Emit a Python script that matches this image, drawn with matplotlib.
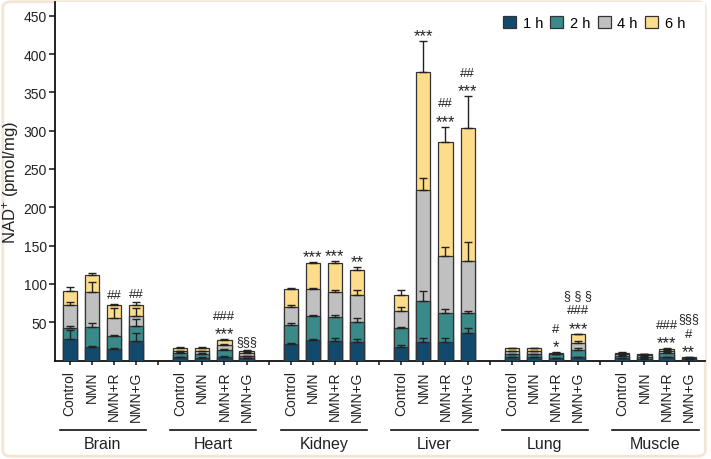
import numpy as np
import matplotlib
matplotlib.use("Agg")
import matplotlib.pyplot as plt
import matplotlib.transforms as mtransforms
from matplotlib.patches import FancyBboxPatch, Patch

plt.rcParams['font.family'] = ['Liberation Sans', 'DejaVu Sans']
plt.rcParams['mathtext.default'] = 'regular'

tissues = ['Brain', 'Heart', 'Kidney', 'Liver', 'Lung', 'Muscle']
treatments = ['Control', 'NMN', 'NMN+R', 'NMN+G']
times = ['1 h', '2 h', '4 h', '6 h']
colors = ['#124a6e', '#3b8a8a', '#c0c0c0', '#fddc8c']

# NAD+ (pmol/mg), one value per tissue x treatment (tissue-major)
nad_1h = [28, 17.5, 15, 26,   4, 3.5, 5, 3,   21.5, 27, 25, 24,
          18, 24, 24, 35.5,   4, 4, 3, 4.5,   3, 2.5, 4, 1.5]
nad_2h = [43, 43.5, 31.5, 44.5,   10, 9, 14, 6,   46.5, 57.5, 56.5, 50,
          42.5, 78, 61.5, 61.5,   8, 8, 8, 14,   6.5, 5, 10, 2.5]
nad_4h = [73, 90, 56, 58.5,   12.5, 12, 20, 10,   69.5, 93.5, 89, 85,
          65, 223, 136, 130.5,   12, 12, 9, 23,   9, 7.5, 13, 3.5]
nad_6h = [90.5, 112, 72, 72,   16, 16, 27, 13,   93.5, 127.5, 127.5, 117.5,
          86, 377, 285, 304,   16, 16, 10, 34,   10, 8.5, 15.5, 4]

err_1h = [12, 1.5, 1.5, 9.5,   0.5, 0.5, 0.5, 0.5,   1, 1.5, 4, 4,
          2.5, 5, 6, 6.5,   0.5, 0.5, 0.5, 0.5,   0.5, 0.5, 0.5, 0.3]
err_2h = [1.5, 5, 2, 10,   0.5, 0.5, 0.5, 0.5,   3, 1.5, 3, 5.5,
          1, 12.5, 5.5, 3.5,   0.5, 0.5, 0.5, 2,   0.5, 0.5, 0.5, 0.3]
err_4h = [4, 13, 12, 9.5,   0.5, 0.5, 1, 0.5,   2.5, 1, 3.5, 7,
          4.5, 15, 12, 24.5,   0.5, 0.5, 0.5, 2.5,   0.5, 0.5, 0.5, 0.3]
err_6h = [5, 2.5, 2, 4,   1, 1, 1, 1,   1.5, 1, 2.5, 4.5,
          6, 40, 20, 41,   0.5, 0.5, 0.5, 1,   0.5, 0.5, 0.8, 0.5]

# significance marks, listed bottom to top
marks = [[], [], ['##'], ['##'],
         [], [], ['***', '###'], ['§§§'],
         [], ['***'], ['***'], ['**'],
         [], ['***'], ['***', '##'], ['***', '##'],
         [], [], ['*', '#'], ['***', '###', '§ § §'],
         [], [], ['***', '###'], ['**', '#', '§§§']]

means = [nad_1h, nad_2h, nad_4h, nad_6h]
errs = [err_1h, err_2h, err_4h, err_6h]

fig = plt.figure(figsize=(7.11, 4.6), dpi=100)
ax = fig.add_axes([55 / 711, 1 - 361.5 / 460, 650 / 711, 358.5 / 460])

pos = np.array([g * 5 + i for g in range(len(tissues)) for i in range(len(treatments))])
width = 0.64

# later time points drawn behind earlier ones
for k in range(3, -1, -1):
    ax.bar(pos, means[k], width=width, color=colors[k], edgecolor='#333333',
           linewidth=0.9, zorder=2 + (3 - k))
for k in range(4):
    ax.errorbar(pos, means[k], yerr=[np.zeros(len(pos)), errs[k]], fmt='none',
                ecolor='#222222', elinewidth=1.0, capsize=2.7, capthick=1.0, zorder=10)

# significance text above the 6 h error bar
tops = np.array(nad_6h) + np.array(err_6h)
center = {'*': 6.9, '#': 3.6, '§': 3.3}
size = {'*': 12, '#': 9.5, '§': 9}
for p, top, m in zip(pos, tops, marks):
    for j, s in enumerate(m):
        dy = 7.5 + 10.8 * j - center[s[0]]
        ax.annotate(s, (p, top), xytext=(0, dy), textcoords='offset points',
                    ha='center', va='baseline', fontsize=size[s[0]], color='#222222')

ax.set_xlim(-0.665, 28.74)
ax.set_ylim(0, 468)
ax.set_yticks(np.arange(50, 451, 50))
gap_ticks = [g * 5 + 4 for g in range(len(tissues) - 1)]
ax.set_xticks(list(pos) + gap_ticks)
ax.set_xticklabels(treatments * len(tissues) + [''] * len(gap_ticks), rotation=90)

for side in ['top', 'right']:
    ax.spines[side].set_visible(False)
for side in ['left', 'bottom']:
    ax.spines[side].set_linewidth(1.3)
    ax.spines[side].set_color('#111111')
ax.tick_params(axis='y', direction='out', length=4, width=1.1, labelsize=10,
               colors='#111111', labelcolor='#222222', pad=2)
ax.tick_params(axis='x', direction='out', length=3, width=1.1, labelsize=10,
               colors='#111111', labelcolor='#222222', pad=4)
ax.set_ylabel('NAD$^{+}$ (pmol/mg)', fontsize=12, color='#222222')
ax.yaxis.set_label_coords(-0.052, 0.5)

# group underline and tissue names
trans = mtransforms.blended_transform_factory(ax.transData, fig.transFigure)
for g, name in enumerate(tissues):
    x0, x1 = g * 5 - 0.45, g * 5 + 3.45
    ax.plot([x0, x1], [1 - 430.7 / 460] * 2, transform=trans, color='#111111',
            lw=1.2, clip_on=False)
    ax.text((x0 + x1) / 2, 1 - 444.5 / 460, name, transform=trans, ha='center',
            va='center', fontsize=11.5, color='#222222')

handles = [Patch(facecolor=c, edgecolor='#333333', linewidth=0.9, label=t)
           for c, t in zip(colors, times)]
fig.legend(handles=handles, loc='center right', bbox_to_anchor=(685 / 711, 1 - 24 / 460),
           ncol=4, frameon=False, fontsize=10.5, handlelength=0.9, handleheight=0.9,
           handletextpad=0.45, columnspacing=0.5, borderpad=0, borderaxespad=0)

# light card border around the figure
fig.patches.append(FancyBboxPatch((0.004, 0.006), 0.988, 0.988, boxstyle='round,pad=0,rounding_size=0.012',
                                  transform=fig.transFigure, facecolor='none',
                                  edgecolor='#f5e4d4', linewidth=2.0, zorder=-1))

fig.savefig('out.png', dpi=100, facecolor='white')
